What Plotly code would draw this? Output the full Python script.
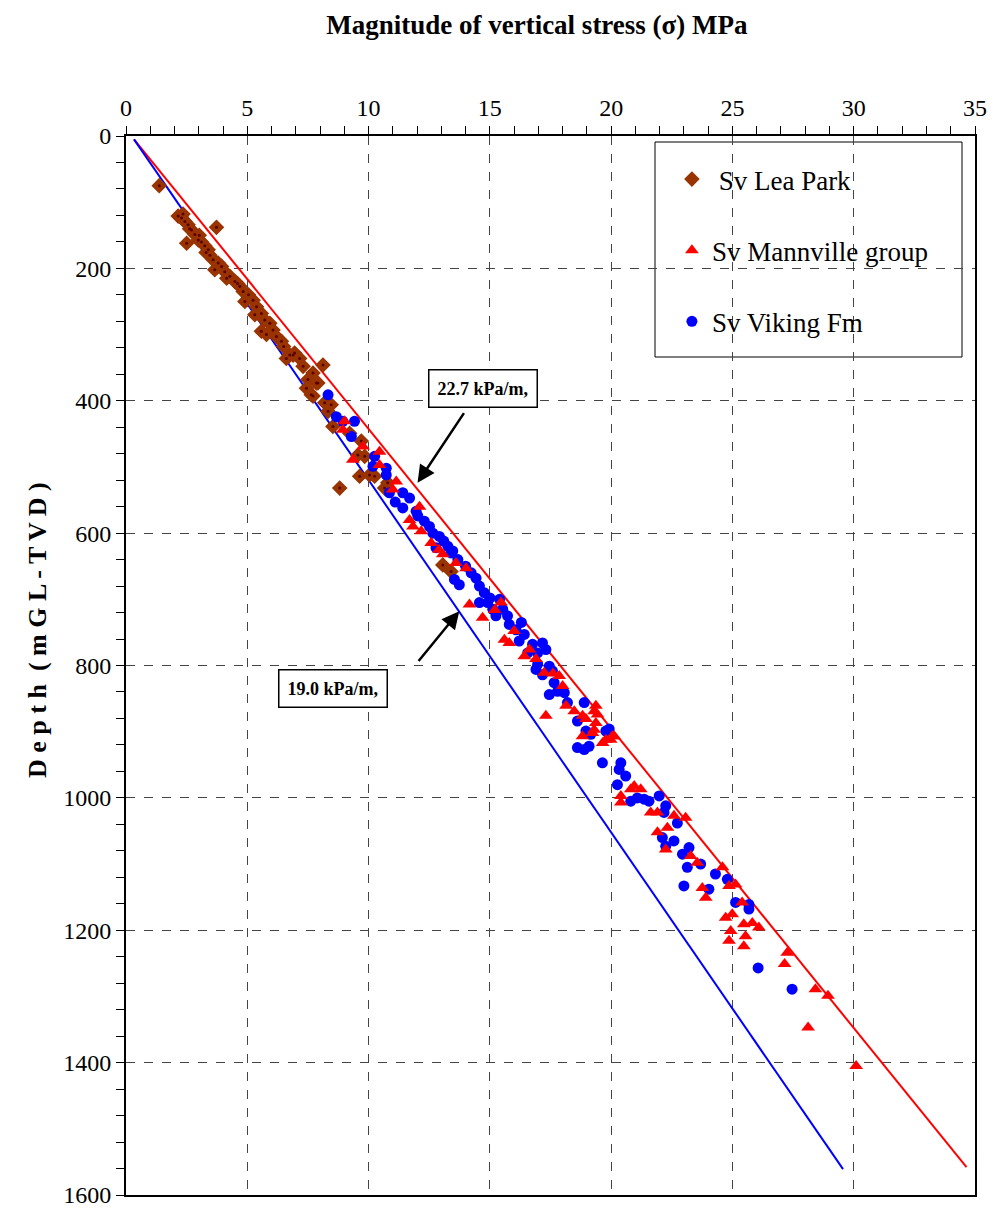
import plotly.graph_objects as go

# ---------------- data ----------------
lea_x = [1.37, 2.15, 2.29, 2.43, 2.56, 3.73, 2.50, 2.70, 2.84, 2.98, 3.11, 3.25, 3.39, 3.46, 3.59,
         3.66, 3.80, 3.94, 4.07, 4.28, 4.49, 4.69, 4.83, 4.90, 5.24, 5.38, 5.31, 5.58, 5.72, 5.93,
         5.58, 5.79, 6.06, 6.20, 6.41, 6.75, 6.95, 7.16, 6.61, 6.89, 7.30, 7.50, 7.71, 7.85, 7.64,
         8.12, 7.91, 7.44, 7.71, 8.19, 8.46, 8.33, 8.53, 9.22, 9.70, 9.56, 9.84, 9.63, 10.04, 10.25,
         8.81, 10.66, 10.79, 13.06, 13.40, 2.35, 2.62, 3.02, 3.30, 4.15, 4.60, 5.05, 6.50]
lea_d = [75, 121, 124, 129, 134, 138, 162, 142, 149, 157, 160, 166, 172, 180, 187,
         202, 192, 197, 205, 212, 220, 227, 235, 250, 248, 258, 270, 268, 278, 283,
         295, 300, 293, 303, 310, 331, 328, 336, 336, 331, 348, 368, 358, 373, 391,
         346, 373, 381, 393, 403, 406, 416, 439, 449, 461, 482, 484, 514, 512, 514,
         532, 532, 524, 648, 658, 118, 140, 150, 176, 215, 223, 240, 318]

mann_x = [9.01, 8.94, 9.77, 9.35, 10.45, 10.45, 11.14, 11.00, 11.69, 11.83, 12.17, 12.10, 12.58, 13.06,
          14.16, 14.70, 14.02, 15.46, 15.60, 15.80, 16.42, 16.63, 17.24, 17.86, 18.00, 17.31, 18.48,
          18.82, 19.30, 19.37, 18.96, 19.30, 19.78, 20.05, 18.82, 18.14, 19.44, 19.37, 19.23, 19.65,
          19.98, 20.12, 20.40, 20.40, 20.81, 20.95, 21.22, 21.63, 21.91, 22.59, 23.07, 21.91, 22.32,
          22.25, 23.28, 23.55, 23.76, 23.90, 24.59, 24.86, 25.13, 24.72, 24.99, 24.93, 24.86, 25.47,
          25.54, 25.47, 25.82, 26.09, 25.40, 27.26, 27.15, 28.42, 28.94, 28.12, 30.10, 15.20, 16.00,
          16.90, 17.60, 12.90, 13.60]
mann_d = [431, 444, 469, 489, 477, 497, 522, 534, 580, 590, 597, 560, 615, 632,
          708, 728, 653, 705, 761, 766, 786, 776, 811, 816, 831, 876, 869,
          876, 869, 861, 881, 897, 912, 907, 907, 861, 874, 887, 902, 917,
          912, 907, 997, 1007, 987, 982, 987, 1022, 1022, 1027, 1030, 1052, 1045,
          1078, 1088, 1098, 1136, 1151, 1105, 1133, 1131, 1181, 1176, 1201, 1216, 1191,
          1209, 1224, 1189, 1196, 1158, 1234, 1251, 1289, 1299, 1347, 1405, 716, 748,
          790, 812, 625, 645]

vik_x = [8.33, 8.67, 8.94, 9.42, 9.29, 10.25, 10.18, 10.73, 10.73, 10.86, 11.41, 11.69, 11.41, 11.96,
         12.03, 12.51, 12.65, 12.92, 12.78, 13.27, 13.47, 13.40, 13.54, 13.74, 13.68, 14.23, 14.43,
         14.57, 14.77, 14.57, 14.91, 15.12, 15.25, 15.53, 15.73, 15.80, 16.08, 16.21, 16.42, 16.56,
         16.76, 16.97, 17.17, 17.31, 16.97, 16.90, 17.17, 17.45, 17.58, 17.65, 17.45, 17.79, 18.07,
         18.20, 18.89, 18.61, 18.96, 19.16, 18.61, 18.89, 19.09, 19.78, 19.92, 19.64, 20.33, 20.40,
         20.60, 20.26, 20.81, 21.08, 21.36, 21.56, 21.98, 22.25, 22.18, 22.73, 22.11, 22.25, 22.59,
         23.21, 22.94, 23.00, 23.14, 23.69, 24.03, 24.30, 24.79, 25.13, 25.68, 25.68, 26.06, 27.46,
         13.10, 14.00, 15.00, 15.40, 16.30, 11.10, 12.30]
vik_d = [391, 424, 431, 431, 454, 484, 499, 502, 512, 539, 539, 547, 562, 567,
         574, 590, 600, 605, 622, 620, 627, 630, 670, 678, 640, 660, 668,
         680, 690, 705, 705, 715, 725, 715, 725, 738, 746, 763, 753, 781,
         768, 781, 766, 776, 798, 806, 814, 801, 808, 826, 844, 839, 841,
         856, 856, 884, 899, 904, 924, 927, 922, 899, 896, 947, 957, 947,
         967, 980, 1005, 1000, 1002, 1005, 997, 1012, 1022, 1038, 1060, 1073, 1065,
         1075, 1085, 1133, 1105, 1100, 1138, 1115, 1123, 1158, 1161, 1168, 1257, 1289,
         612, 650, 698, 700, 735, 553, 582]

red_line_x = [0.33, 34.65]
red_line_d = [5, 1558]
blue_line_x = [0.33, 29.56]
blue_line_d = [5, 1561]

x_ticks = [0, 5, 10, 15, 20, 25, 30, 35]
y_ticks = [0, 200, 400, 600, 800, 1000, 1200, 1400, 1600]

SERIF = "Liberation Serif"

fig = go.Figure()

fig.add_trace(go.Scatter(x=red_line_x, y=red_line_d, mode="lines",
                         line=dict(color="#FF0000", width=2), showlegend=False, hoverinfo="skip"))
fig.add_trace(go.Scatter(x=blue_line_x, y=blue_line_d, mode="lines",
                         line=dict(color="#0000FF", width=2), showlegend=False, hoverinfo="skip"))

fig.add_trace(go.Scatter(x=lea_x, y=lea_d, mode="markers", name=" Sv Lea Park",
                         legendgroup="a", legendrank=1,
                         marker=dict(symbol="diamond", size=12, color="#993300",
                                     line=dict(width=0))))
fig.add_trace(go.Scatter(x=lea_x, y=lea_d, mode="markers", showlegend=False,
                         legendgroup="a", hoverinfo="skip",
                         marker=dict(symbol="circle", size=3, color="#5a0000")))
fig.add_trace(go.Scatter(x=vik_x, y=vik_d, mode="markers", name="Sv Viking Fm",
                         legendgroup="c", legendrank=3,
                         marker=dict(symbol="circle", size=11, color="#0000FF",
                                     line=dict(width=0))))
fig.add_trace(go.Scatter(x=mann_x, y=mann_d, mode="markers", name="Sv Mannville group",
                         legendgroup="b", legendrank=2,
                         marker=dict(symbol="triangle-up", size=12, color="#FF0000",
                                     line=dict(width=0))))

fig.update_layout(
    width=996, height=1211,
    margin=dict(l=126, r=21, t=136, b=16, autoexpand=False),
    paper_bgcolor="white", plot_bgcolor="white",
    font=dict(family=SERIF, size=24, color="black"),
    title=dict(text="<b>Magnitude of vertical stress (σ) MPa</b>",
               x=0.539, xref="container", xanchor="center",
               y=1 - 25 / 1211, yref="container", yanchor="middle",
               font=dict(family=SERIF, size=27, color="black")),
    showlegend=True,
    legend=dict(x=0.643, xanchor="left", y=0.982, yanchor="top",
                bgcolor="rgba(0,0,0,0)", borderwidth=0,
                font=dict(family=SERIF, size=27, color="black"),
                tracegroupgap=33, traceorder="grouped"),
    xaxis=dict(range=[0, 35], side="top", tickvals=x_ticks,
               ticks="outside", ticklen=8, tickwidth=1, tickcolor="black",
               showline=True, linecolor="black", linewidth=2, mirror=True,
               showgrid=True, gridcolor="#444444", griddash="dash", gridwidth=1,
               zeroline=False,
               minor=dict(dtick=1, ticks="outside", ticklen=8, tickcolor="black",
                          showgrid=False),
               tickfont=dict(family=SERIF, size=24, color="black")),
    yaxis=dict(range=[1600, 0], tickvals=y_ticks,
               ticks="outside", ticklen=8, tickwidth=1, tickcolor="black",
               showline=True, linecolor="black", linewidth=2, mirror=True,
               showgrid=True, gridcolor="#444444", griddash="dash", gridwidth=1,
               zeroline=False,
               minor=dict(dtick=40, ticks="outside", ticklen=8, tickcolor="black",
                          showgrid=False),
               tickfont=dict(family=SERIF, size=24, color="black")),
)

# legend frame
fig.add_shape(type="rect", xref="paper", yref="paper",
              x0=(655 - 126) / 849, x1=(962 - 126) / 849,
              y0=1 - (357 - 136) / 1059, y1=1 - (142 - 136) / 1059,
              line=dict(color="black", width=1), fillcolor="white", layer="between")

# y axis title
fig.add_annotation(text="<b>D e p t h  ( m G L - T V D )</b>", textangle=-90,
                   xref="paper", yref="paper",
                   x=-(126 - 37) / 849, xanchor="center",
                   y=1 - (630 - 136) / 1059, yanchor="middle",
                   showarrow=False, font=dict(family=SERIF, size=26, color="black"))

# gradient labels
fig.add_annotation(text="<b>22.7 kPa/m,</b>", x=14.7, y=381, xref="x", yref="y",
                   showarrow=False, bgcolor="white", bordercolor="black", borderwidth=1.5,
                   borderpad=8, font=dict(family=SERIF, size=18, color="black"))
fig.add_annotation(text="<b>19.0 kPa/m,</b>", x=8.55, y=834, xref="x", yref="y",
                   showarrow=False, bgcolor="white", bordercolor="black", borderwidth=1.5,
                   borderpad=8, font=dict(family=SERIF, size=18, color="black"))

# arrows
fig.add_annotation(text=" ", x=12.02, y=524, xref="x", yref="y",
                   ax=14.0, ay=415, axref="x", ayref="y",
                   showarrow=True, arrowhead=2, arrowsize=1.4, arrowwidth=2.5, arrowcolor="black",
                   font=dict(size=2))
fig.add_annotation(text=" ", x=13.74, y=718, xref="x", yref="y",
                   ax=11.98, ay=797, axref="x", ayref="y",
                   showarrow=True, arrowhead=2, arrowsize=1.4, arrowwidth=2.5, arrowcolor="black",
                   font=dict(size=2))

fig.write_html("out.html", config={"displayModeBar": False},
               post_script="document.body.style.margin='0px';document.body.style.overflow='hidden';")
